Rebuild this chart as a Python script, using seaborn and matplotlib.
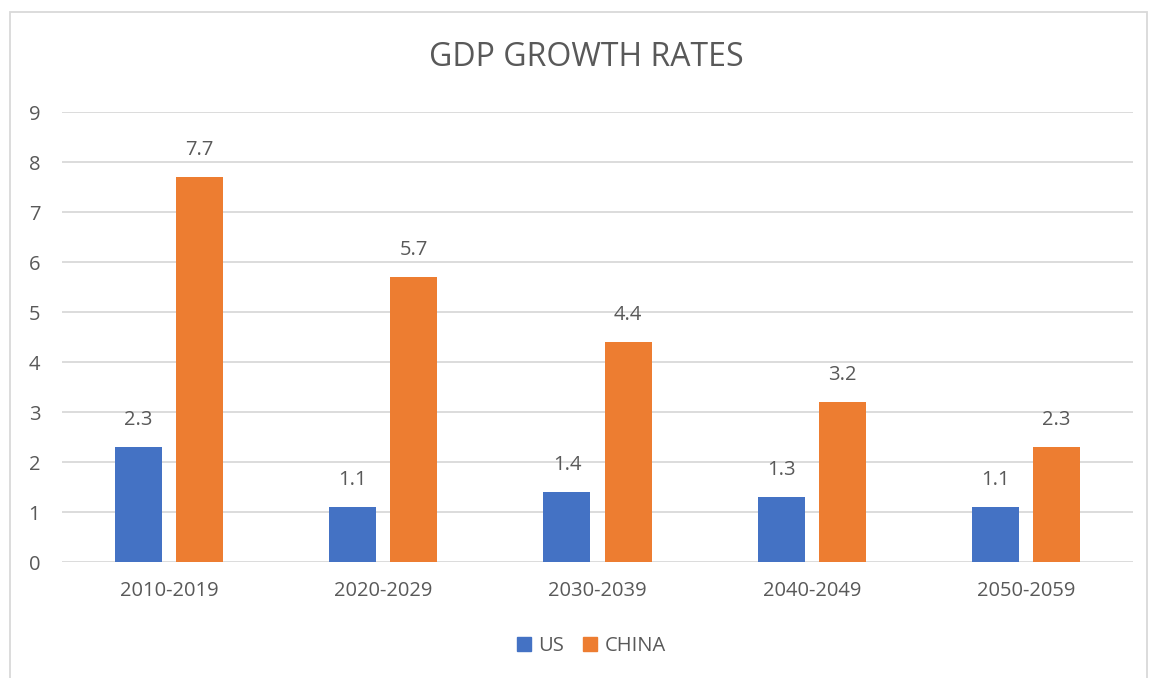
import matplotlib
matplotlib.use("Agg")
import matplotlib.pyplot as plt
import seaborn as sns
import pandas as pd
from matplotlib.patches import Rectangle
from matplotlib.lines import Line2D

periods = ["2010-2019", "2020-2029", "2030-2039", "2040-2049", "2050-2059"]
us = [2.3, 1.1, 1.4, 1.3, 1.1]
china = [7.7, 5.7, 4.4, 3.2, 2.3]
series = ["US", "CHINA"]
colors = ["#4472C4", "#ED7D31"]
title = "GDP GROWTH RATES"

df = pd.DataFrame({
    "period": periods * 2,
    "value": us + china,
    "series": [series[0]] * len(periods) + [series[1]] * len(periods),
})

sns.set_theme(style="white")
plt.rcParams["font.family"] = ["Open Sans", "DejaVu Sans"]
txt = "#595959"
grid = "#D9D9D9"
fs = 14.5

fig = plt.figure(figsize=(11.49, 6.78), dpi=100)
ax = fig.add_axes([62/1149, 1-562/678, (1133-62)/1149, (562-112)/678])

sns.barplot(data=df, x="period", y="value", hue="series", palette=colors,
            width=0.57, gap=0.23, ax=ax, legend=False, saturation=1,
            linewidth=0)

ax.set_ylim(0, 9)
ax.set_yticks(range(0, 10))
ax.set_xlim(-0.5, len(periods) - 0.5)
ax.yaxis.grid(True, color=grid, linewidth=1.3)
ax.set_axisbelow(True)
for s in ax.spines.values():
    s.set_visible(False)
ax.tick_params(axis="both", length=0, colors=txt, labelsize=fs)
ax.tick_params(axis="x", pad=14)
ax.tick_params(axis="y", pad=24)
for lbl in ax.get_yticklabels():
    lbl.set_horizontalalignment("left")
ax.set_xlabel("")
ax.set_ylabel("")

for cont in ax.containers:
    ax.bar_label(cont, fmt="%.1f", padding=12, color=txt, fontsize=fs)

fig.text(586/1149, 1-58/678, title, ha="center", va="center", color=txt, fontsize=23)

handles = [Line2D([], [], marker="s", linestyle="", markersize=10,
                  markerfacecolor=c, markeredgecolor=c) for c in colors]
fig.legend(handles, series, loc="center", bbox_to_anchor=(590/1149, 1-646/678),
           ncol=2, frameon=False, fontsize=fs, labelcolor=txt,
           handletextpad=0.2, columnspacing=0.8, handlelength=1.0)

fig.patches.append(Rectangle((10/1149, -0.02), (1147-10)/1149, 1-12/678+0.02,
                             transform=fig.transFigure, fill=False,
                             edgecolor=grid, linewidth=1.3))

fig.savefig("out.png", dpi=100)
